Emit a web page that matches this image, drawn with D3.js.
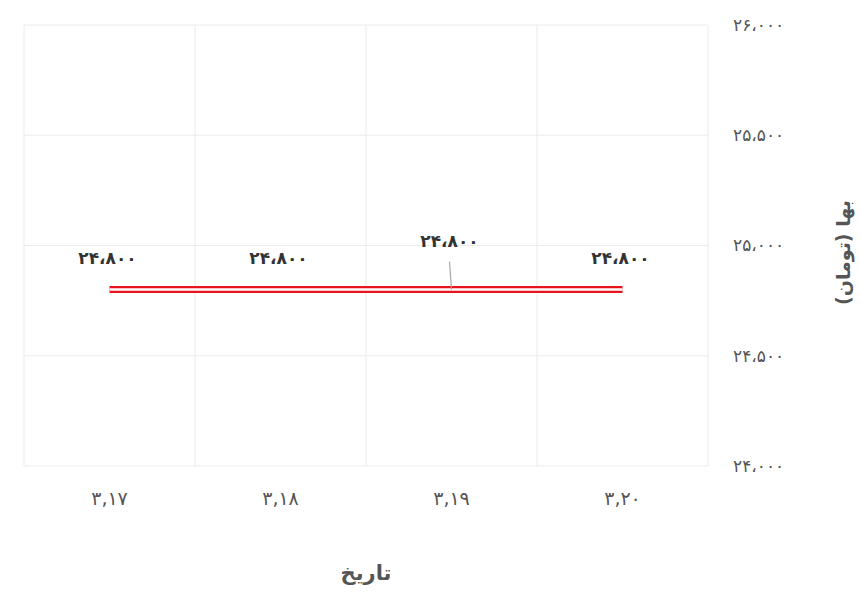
<!DOCTYPE html>
<html><head><meta charset="utf-8">
<script src="https://cdn.jsdelivr.net/npm/d3@7"></script>
<style>
body{margin:0;background:#fff;}
text{font-family:"DejaVu Sans","Noto Sans",sans-serif;}
</style></head>
<body>
<svg id="c" width="860" height="597"></svg>
<script>
const dates = ["۳,۱۷", "۳,۱۸", "۳,۱۹", "۳,۲۰"];
const prices = [24800, 24800, 24800, 24800];
const yTicks = [24000, 24500, 25000, 25500, 26000];
const xTitle = "تاریخ";
const yTitle = "بها (تومان)";

const fa = s => String(s).replace(/\d/g, d => "۰۱۲۳۴۵۶۷۸۹"[d]);
const fmt = v => fa(d3.format(",")(v)).replace(/,/g, "،");

const svg = d3.select("#c");
const m = {l: 24, r: 708, t: 25, b: 466};
const x = d3.scaleBand().domain(dates).range([m.l, m.r]);
const y = d3.scaleLinear().domain([24000, 26000]).range([m.b, m.t]);
const cx = d => x(d) + x.bandwidth() / 2;

// grid
const g = svg.append("g");
g.selectAll(".h").data(yTicks).join("line")
  .attr("x1", m.l).attr("x2", m.r).attr("y1", d => y(d)).attr("y2", d => y(d))
  .attr("stroke", "#ebebeb").attr("stroke-width", 1);
const edges = dates.map(d => x(d)).concat([m.r]);
g.selectAll(".v").data(edges).join("line")
  .attr("x1", d => d).attr("x2", d => d).attr("y1", m.t).attr("y2", m.b)
  .attr("stroke", "#ebebeb").attr("stroke-width", 1);

// y axis (right)
const ya = svg.append("g").attr("transform", `translate(${m.r + 22},0)`)
  .call(d3.axisRight(y).tickValues(yTicks).tickFormat(fmt).tickSize(0));
ya.select(".domain").remove();
ya.selectAll("text").attr("font-size", 17).attr("fill", "#555").attr("text-anchor", "start").attr("dx", 0);

// x axis
const xa = svg.append("g").attr("transform", `translate(0,${m.b + 22})`)
  .call(d3.axisBottom(x).tickSize(0));
xa.select(".domain").remove();
xa.selectAll("text").attr("font-size", 19).attr("fill", "#555");

// line
const line = d3.line().x((d, i) => cx(dates[i])).y(d => y(d));
svg.append("path").datum(prices).attr("d", line).attr("fill", "none")
  .attr("stroke", "#e8141b").attr("stroke-width", 7);
svg.append("path").datum(prices).attr("d", line).attr("fill", "none")
  .attr("stroke", "#fff").attr("stroke-width", 2.5);

// labels
const lab = svg.append("g");
prices.forEach((v, i) => {
  const px = cx(dates[i]), py = y(v);
  const lifted = i === 2;
  const ly = lifted ? py - 49 : py - 32;
  if (lifted) {
    lab.append("line").attr("x1", px - 2).attr("y1", py - 28).attr("x2", px).attr("y2", py)
      .attr("stroke", "#aaa").attr("stroke-width", 1.2);
  }
  lab.append("text").attr("x", px - 2).attr("y", ly).attr("dy", "0.35em")
    .attr("text-anchor", "middle").attr("font-size", 17).attr("font-weight", "bold")
    .attr("fill", "#333").text(fmt(v));
});

// titles
svg.append("text").attr("x", 366).attr("y", 573).attr("dy", "0.35em").attr("text-anchor", "middle")
  .attr("font-size", 21).attr("font-weight", "bold").attr("fill", "#555").text(xTitle);
svg.append("text").attr("transform", `translate(843,${y(25000) + 7}) rotate(-90)`)
  .attr("dy", "0.35em").attr("text-anchor", "middle")
  .attr("font-size", 19).attr("font-weight", "bold").attr("fill", "#555").text(yTitle);
</script>
</body></html>
